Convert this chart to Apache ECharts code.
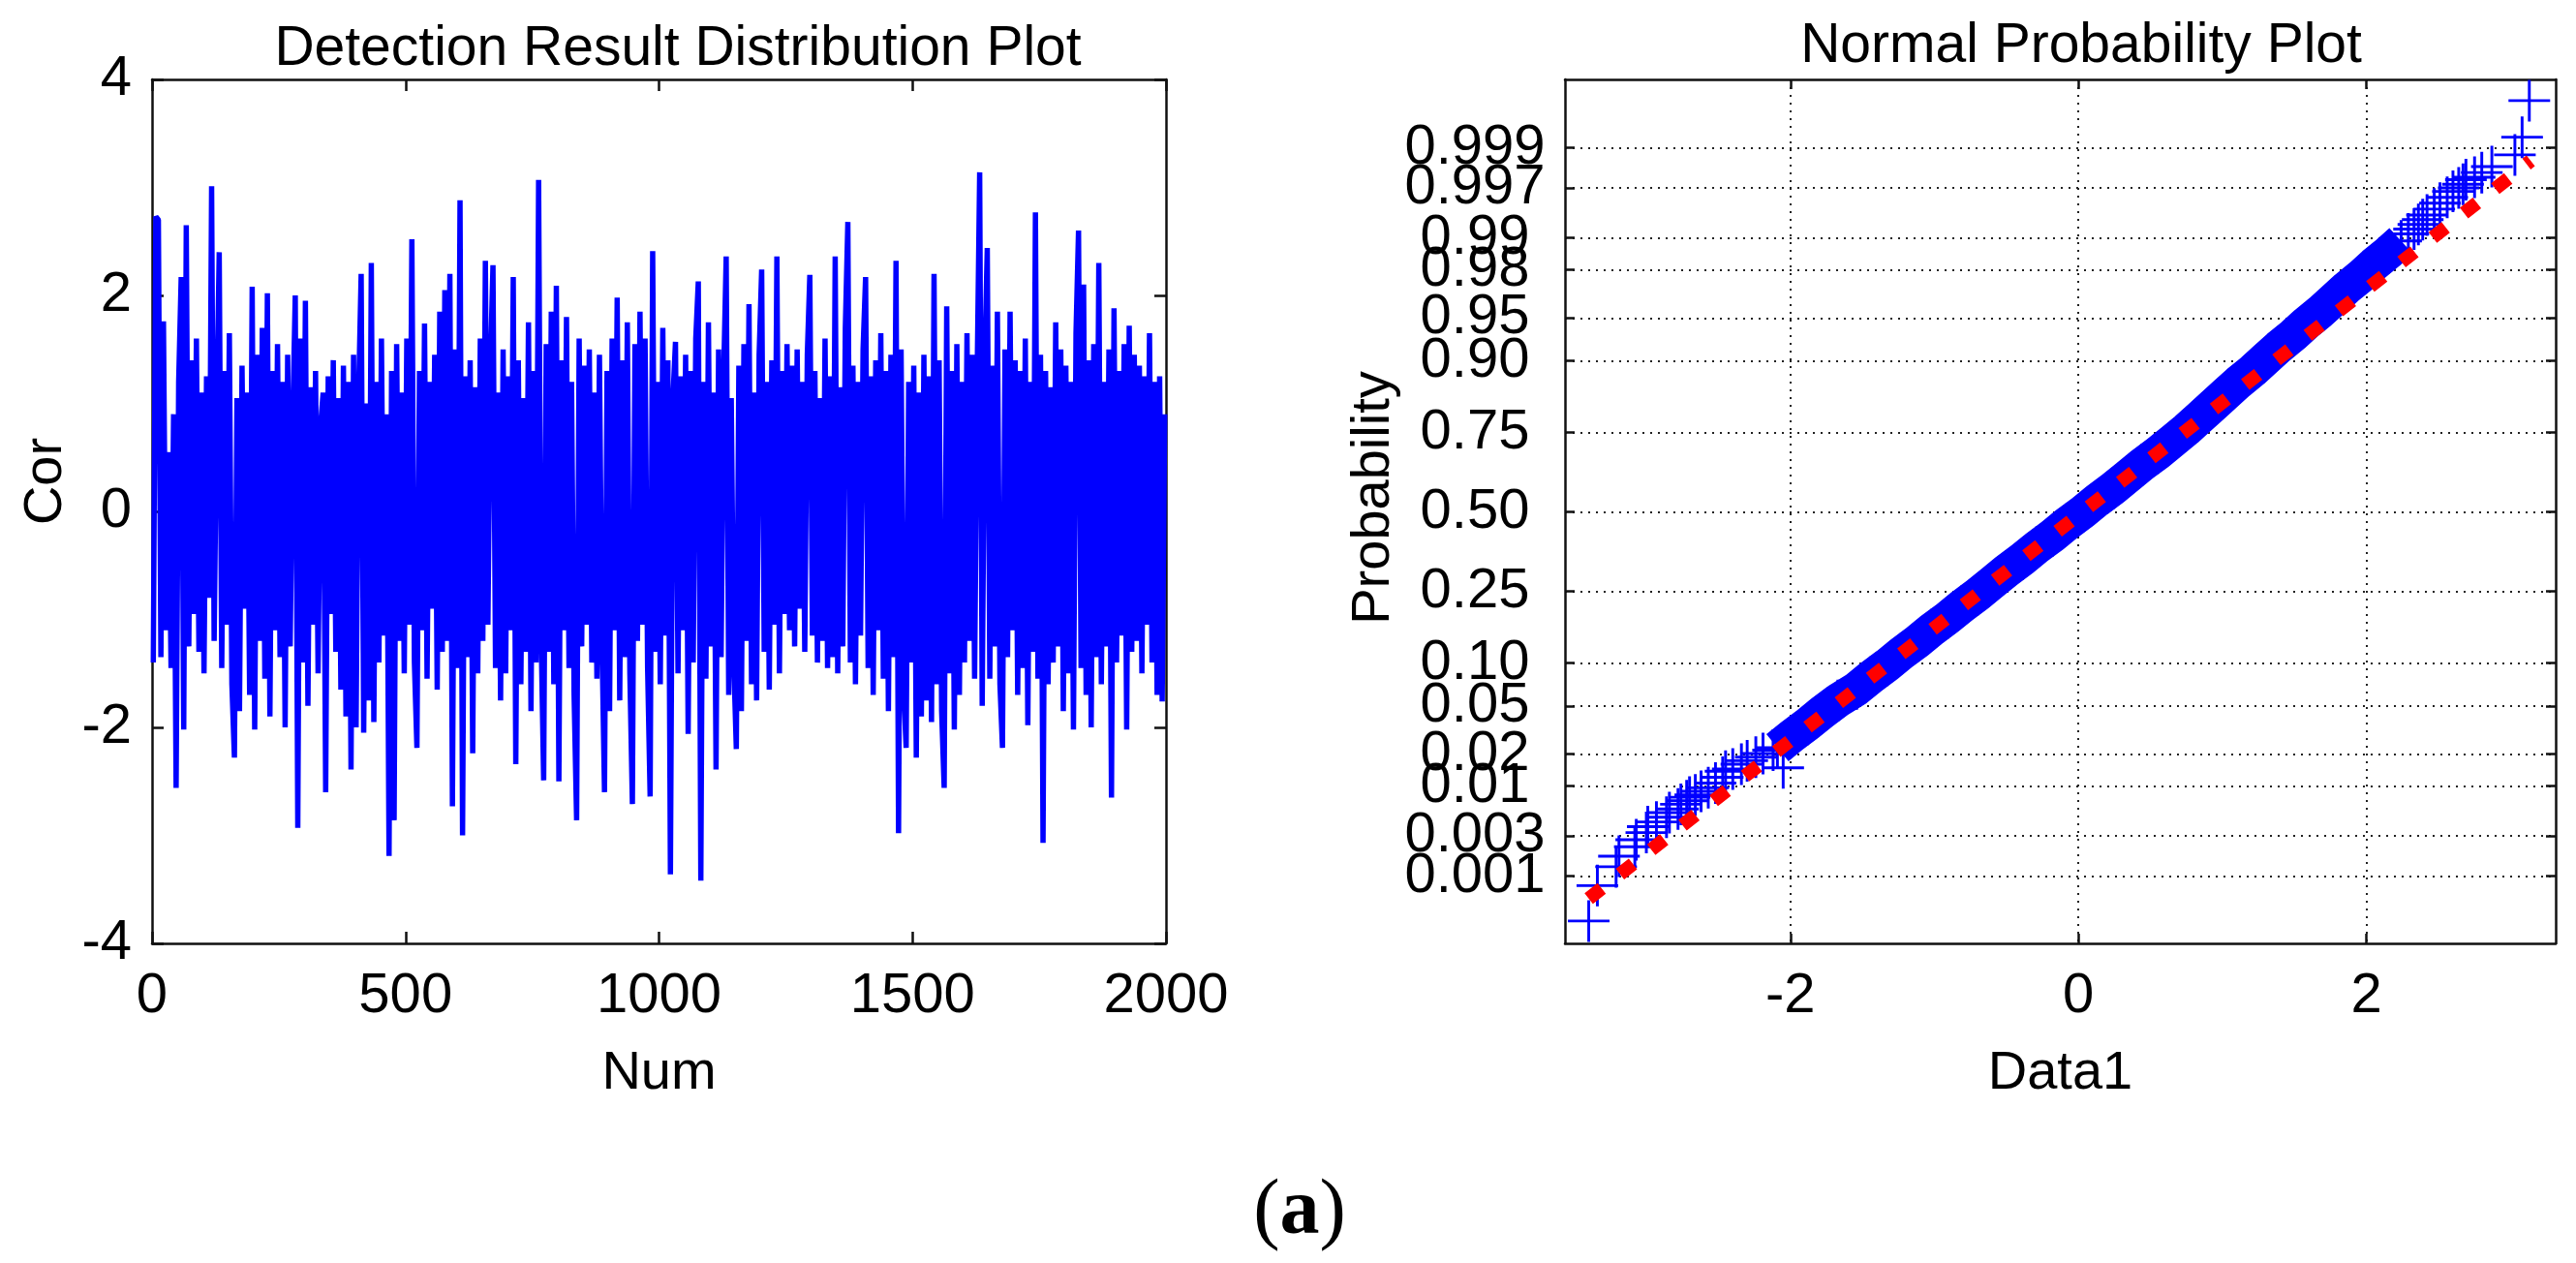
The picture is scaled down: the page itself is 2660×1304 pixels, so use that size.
<!DOCTYPE html>
<html>
<head>
<meta charset="utf-8">
<title>Detection Result / Normal Probability Plot</title>
<script src="https://cdn.jsdelivr.net/npm/echarts@6/dist/echarts.min.js"></script>
<style>
  html, body { margin: 0; padding: 0; background: #fff; }
  #chart { width: 2660px; height: 1304px; }
</style>
</head>
<body>
<div id="chart"></div>
<script>
// left plot: detection result, one value every sampleStep samples
var sampleStep = 5;
var corValues = [
	-1.40, 2.73, 2.70, -1.35, 1.76, -1.10, 0.55, -1.45, 0.90, -2.56, 1.20, 2.17, -2.02, 2.65, -1.25, 1.40, -0.95, 1.60, -1.30, 1.10, -1.50, 1.25, -0.80, 3.01, -1.20,
	0.95, 2.40, -1.45, 1.30, -1.05, 1.65, -1.60, -2.28, 1.05, -1.85, 1.35, -0.90, 1.10, -1.70, 2.08, -2.02, 1.45, -1.20, 1.70, -1.55, 2.02, -1.90, 1.30, -1.10, 1.55,
	-1.35, 1.20, -2.00, 1.45, -1.25, 0.85, 2.00, -2.93, 1.60, -1.40, 1.95, -1.80, 1.15, -1.05, 1.30, -1.50, 0.80, 1.10, -2.60, 1.25, -0.95, 1.40, -1.30, 1.05, -1.65,
	1.35, -1.90, 1.20, -2.39, 1.45, -2.00, 1.10, 2.20, -2.05, 1.00, -1.75, 2.30, -1.95, 1.20, -1.40, 1.60, -1.15, 0.90, -3.19, 1.30, -2.86, 1.55, -1.20, 1.10, -1.50,
	1.60, -1.05, 2.52, -1.40, -2.19, 1.30, -1.10, 1.74, -1.55, 1.20, -0.90, 1.45, -1.65, 1.85, -1.30, 2.05, -1.20, 2.20, -2.73, 1.50, -1.45, 2.88, -3.00, 1.25, -1.35,
	1.40, -2.24, 1.15, -1.50, 1.60, -1.20, 2.32, -1.05, 1.35, 2.28, -1.45, 1.10, -1.75, 1.50, -1.50, 1.25, -1.10, 2.17, -2.34, 1.40, -1.60, 1.05, -1.30, 1.75, -1.85,
	1.30, -1.40, 3.07, -1.15, -2.49, 1.55, -1.30, 1.85, -1.60, 2.09, -2.50, 1.40, -1.10, 1.80, -1.45, 1.20, -1.70, -2.86, 1.60, -1.25, 1.35, -1.05, 1.50, -1.40, 1.10,
	-1.55, 1.45, -1.20, -2.60, 1.30, -1.85, 1.60, -1.10, 1.98, -1.75, 1.40, -1.35, 1.75, -1.50, -2.71, 1.55, -1.20, 1.85, -1.05, 1.60, -1.45, -2.64, 2.41, -1.30, 1.20,
	-1.60, 1.70, -1.15, 1.40, -3.36, 1.05, 1.57, -1.50, 1.25, -1.10, 1.45, -2.06, 1.30, -1.40, 1.60, 2.13, -3.42, 1.20, -1.55, 1.75, -1.25, 1.10, -2.39, 1.50, -1.35,
	1.25, 2.36, -1.70, 1.05, -1.40, -2.20, 1.35, -1.85, 1.55, -1.20, 1.92, -1.60, 1.10, -1.75, 1.45, 2.24, -1.30, 1.20, -1.65, 1.40, -1.05, 2.36, -1.50, 1.30, -0.95,
	1.55, -1.10, 1.35, -1.25, 1.50, -0.90, 1.20, -1.30, 1.45, 2.19, -1.15, 1.30, -1.40, 1.05, -1.20, 1.60, -1.45, 1.25, -1.35, 2.36, -1.50, 1.15, -1.25, 1.70, 2.68,
	-1.40, 1.35, -1.60, 1.20, -1.15, 1.50, 2.17, -1.45, 1.25, -1.70, 1.40, -1.10, 1.65, -1.55, 1.30, -1.85, 1.45, -1.35, 2.32, -2.98, 1.50, -1.65, -2.19, 1.20, -1.40,
	1.35, -2.28, 1.10, -1.90, 1.45, -1.75, 1.25, -1.95, 2.20, -1.60, 1.40, -1.85, -2.56, 1.90, -1.50, 1.30, -2.02, 1.55, -1.70, 1.20, -1.40, 1.65, -1.20, 1.45, -1.55,
	1.25, 3.14, -1.80, 1.40, 2.44, -1.55, 1.35, -1.25, 1.85, -1.60, -2.19, 1.50, -1.35, 1.85, -1.10, 1.40, -1.70, 1.30, -1.45, 1.60, -1.98, 1.20, -1.30, 2.77, -1.55,
	1.45, -3.07, 1.30, -1.60, 1.15, -1.40, 1.75, -1.25, 1.50, -1.85, 1.35, -1.50, 1.20, -2.02, 1.65, 2.60, -1.45, 2.10, -1.70, 1.40, -2.00, 1.55, -1.35, 2.30, -1.60,
	1.20, -1.25, 1.50, -2.65, 1.88, -1.40, 1.30, -1.15, 1.55, -2.02, 1.72, -1.30, 1.45, -1.20, 1.35, -1.50, 1.25, -1.05, 1.65, -1.40, 1.20, -1.70, 1.25, -1.76, 0.90
];

// right plot: sorted data (x) against normal score of its plotting position (z)
var lowTailX = [-3.40, -3.34, -3.21, -3.19, -3.08, -3.07, -3.00, -2.99, -2.93, -2.86, -2.84, -2.78, -2.76, -2.72, -2.70,
	-2.66, -2.62, -2.57, -2.52, -2.47, -2.45, -2.40, -2.34, -2.30, -2.24, -2.19, -2.12, -2.05];
var lowTailZ = [-3.47, -3.17, -3.01, -2.92, -2.84, -2.78, -2.72, -2.67, -2.63, -2.59, -2.55, -2.52, -2.48, -2.45, -2.42,
	-2.40, -2.37, -2.34, -2.30, -2.25, -2.20, -2.18, -2.14, -2.11, -2.08, -2.05, -2.02, -2.17];
var bandX = [-2.09, -1.99, -1.88, -1.78, -1.67, -1.54, -1.44, -1.33, -1.23, -1.12, -1.02, -0.91, -0.81, -0.70, -0.60,
	-0.50, -0.39, -0.29, -0.18, -0.08, 0.03, 0.13, 0.24, 0.34, 0.44, 0.55, 0.65, 0.75, 0.84, 0.93,
	1.02, 1.11, 1.21, 1.30, 1.39, 1.49, 1.58, 1.68, 1.77, 1.86, 1.96, 2.05, 2.15, 2.24];
var bandZ = [-2.0, -1.9, -1.8, -1.7, -1.6, -1.5, -1.4, -1.3, -1.2, -1.1, -1.0, -0.9, -0.8, -0.7, -0.6,
	-0.5, -0.4, -0.3, -0.2, -0.1, 0.0, 0.1, 0.2, 0.3, 0.4, 0.5, 0.6, 0.7, 0.8, 0.9,
	1.0, 1.1, 1.2, 1.3, 1.4, 1.5, 1.6, 1.7, 1.8, 1.9, 2.0, 2.1, 2.2, 2.3];
var highTailX = [2.29, 2.33, 2.36, 2.39, 2.42, 2.47, 2.51, 2.56, 2.60, 2.64, 2.67, 2.69, 2.75, 2.80, 2.87, 3.03, 3.08, 3.13];
var highTailZ = [2.36, 2.40, 2.44, 2.48, 2.52, 2.57, 2.62, 2.67, 2.72, 2.75, 2.78, 2.82, 2.84, 2.88, 2.93, 3.03, 3.18, 3.49];
// fitted reference line end points
var refLineX = [-3.40, 3.14];
var refLineZ = [-3.28, 2.98];

var probTickLabels = ['0.001', '0.003', '0.01', '0.02', '0.05', '0.10', '0.25', '0.50',
	'0.75', '0.90', '0.95', '0.98', '0.99', '0.997', '0.999'];
var dataTicks = [-2, 0, 2];

// inverse normal cdf (Acklam), used for the probability axis
function norminv(p) {
	var a = [-39.69683028665376, 220.9460984245205, -275.9285104469687, 138.3577518672690, -30.66479806614716, 2.506628277459239];
	var b = [-54.47609879822406, 161.5858368580409, -155.6989798598866, 66.80131188771972, -13.28068155288572];
	var c = [-0.007784894002430293, -0.3223964580411365, -2.400758277161838, -2.549732539343734, 4.374664141464968, 2.938163982698783];
	var d = [0.007784695709041462, 0.3224671290700398, 2.445134137142996, 3.754408661907416];
	var pl = 0.02425, q, r;
	if (p < pl) {
		q = Math.sqrt(-2 * Math.log(p));
		return (((((c[0] * q + c[1]) * q + c[2]) * q + c[3]) * q + c[4]) * q + c[5]) / ((((d[0] * q + d[1]) * q + d[2]) * q + d[3]) * q + 1);
	}
	if (p > 1 - pl) {
		q = Math.sqrt(-2 * Math.log(1 - p));
		return -(((((c[0] * q + c[1]) * q + c[2]) * q + c[3]) * q + c[4]) * q + c[5]) / ((((d[0] * q + d[1]) * q + d[2]) * q + d[3]) * q + 1);
	}
	q = p - 0.5;
	r = q * q;
	return (((((a[0] * r + a[1]) * r + a[2]) * r + a[3]) * r + a[4]) * r + a[5]) * q / (((((b[0] * r + b[1]) * r + b[2]) * r + b[3]) * r + b[4]) * r + 1);
}

function pairs(xs, ys) {
	return xs.map(function(x, i) { return [x, ys[i]]; });
}

function initChart() {
	var dom = document.getElementById('chart');
	var myChart = echarts.init(dom, null, { renderer: 'canvas' });

	var font = 'Liberation Sans, Arial, sans-serif';
	var black = '#000';
	var probTickZ = probTickLabels.map(function(s) { return norminv(parseFloat(s)); });
	// labels split over two stacked axes so the crowded ones at both ends are not dropped
	var probLabelsA = probTickZ.filter(function(z, i) { return i % 2 === 0; });
	var probLabelsB = probTickZ.filter(function(z, i) { return i % 2 === 1; });
	var probFormatter = function(val) {
		var best = 0;
		for (var i = 1; i < probTickZ.length; i++) {
			if (Math.abs(probTickZ[i] - val) < Math.abs(probTickZ[best] - val)) best = i;
		}
		return probTickLabels[best];
	};

	var corData = corValues.map(function(v, i) { return [i * sampleStep + sampleStep / 2, v]; });
	var crossData = pairs(lowTailX, lowTailZ).concat(pairs(bandX, bandZ), pairs(highTailX, highTailZ));
	var crossSymbol = 'path://M-1.5,-22H1.5V22H-1.5Z M-22,-1.5H22V1.5H-22Z';

	var axisLine = { show: true, onZero: false, lineStyle: { color: '#111', width: 2.5 } };
	var tickStyle = { color: '#111', width: 2.5 };
	var labelStyle = { color: black, fontSize: 58, fontFamily: font };
	var nameStyle = { color: black, fontSize: 56, fontFamily: font };
	var dotted = { show: true, lineStyle: { color: '#222', width: 2, type: [2, 6] } };
	var plain = function(v) { return String(v); };

	var option = {
		animation: false,
		backgroundColor: '#fff',
		title: [{
			text: 'Detection Result Distribution Plot',
			left: 695,
			top: 18,
			textAlign: 'center',
			textStyle: { color: black, fontSize: 57, fontWeight: 'normal', fontFamily: font }
		}, {
			text: 'Normal Probability Plot',
			left: 2144,
			top: 15,
			textAlign: 'center',
			textStyle: { color: black, fontSize: 57, fontWeight: 'normal', fontFamily: font }
		}],
		grid: [
			{ left: 157, top: 82, width: 1047, height: 892 },
			{ left: 1616, top: 82, width: 1023, height: 892 }
		],
		xAxis: [{
			gridIndex: 0, type: 'value', position: 'bottom',
			min: 0, max: 2000, interval: 500,
			name: 'Num', nameLocation: 'middle', nameGap: 107, nameTextStyle: nameStyle,
			axisLine: axisLine,
			axisTick: { inside: true, length: 12, lineStyle: tickStyle },
			axisLabel: Object.assign({ margin: 26, formatter: plain }, labelStyle),
			splitLine: { show: false }
		}, {
			gridIndex: 0, type: 'value', position: 'top',
			min: 0, max: 2000, interval: 500,
			axisLine: axisLine,
			axisTick: { inside: true, length: 12, lineStyle: tickStyle },
			axisLabel: { show: false },
			splitLine: { show: false }
		}, {
			gridIndex: 1, type: 'value', position: 'bottom',
			min: -3.565, max: 3.313,
			name: 'Data1', nameLocation: 'middle', nameGap: 107, nameTextStyle: nameStyle,
			axisLine: axisLine,
			axisTick: { inside: true, length: 10, lineStyle: tickStyle, customValues: dataTicks },
			axisLabel: Object.assign({ margin: 26, customValues: dataTicks, formatter: plain }, labelStyle),
			splitLine: dotted
		}, {
			gridIndex: 1, type: 'value', position: 'top',
			min: -3.565, max: 3.313,
			axisLine: axisLine,
			axisTick: { inside: true, length: 10, lineStyle: tickStyle, customValues: dataTicks },
			axisLabel: { show: false },
			splitLine: { show: false }
		}],
		yAxis: [{
			gridIndex: 0, type: 'value', position: 'left',
			min: -4, max: 4, interval: 2,
			name: 'Cor', nameLocation: 'middle', nameGap: 81,
			nameTextStyle: Object.assign({ padding: [0, 0, 0, 62] }, nameStyle),
			axisLine: axisLine,
			axisTick: { inside: true, length: 12, lineStyle: tickStyle },
			axisLabel: Object.assign({ margin: 21, formatter: plain }, labelStyle),
			splitLine: { show: false }
		}, {
			gridIndex: 0, type: 'value', position: 'right',
			min: -4, max: 4, interval: 2,
			axisLine: axisLine,
			axisTick: { inside: true, length: 12, lineStyle: tickStyle },
			axisLabel: { show: false },
			splitLine: { show: false }
		}, {
			gridIndex: 1, type: 'value', position: 'left',
			min: -3.66, max: 3.67,
			name: 'Probability', nameLocation: 'middle', nameGap: 159,
			nameTextStyle: Object.assign({ padding: [0, 0, 0, 28] }, nameStyle),
			axisLine: axisLine,
			axisTick: { inside: true, length: 10, lineStyle: tickStyle, customValues: probTickZ },
			axisLabel: Object.assign({
				margin: 93, align: 'center',
				showMinLabel: true, showMaxLabel: true,
				customValues: probLabelsA, formatter: probFormatter
			}, labelStyle),
			splitLine: dotted
		}, {
			gridIndex: 1, type: 'value', position: 'right',
			min: -3.66, max: 3.67,
			axisLine: axisLine,
			axisTick: { inside: true, length: 10, lineStyle: tickStyle, customValues: probTickZ },
			axisLabel: { show: false },
			splitLine: { show: false }
		}, {
			gridIndex: 1, type: 'value', position: 'left',
			min: -3.66, max: 3.67,
			axisLine: { show: false, onZero: false },
			axisTick: { show: false },
			axisLabel: Object.assign({
				margin: 93, align: 'center',
				showMinLabel: true, showMaxLabel: true,
				customValues: probLabelsB, formatter: probFormatter
			}, labelStyle),
			splitLine: { show: false }
		}],
		series: [{
			name: 'Cor',
			type: 'line',
			xAxisIndex: 0,
			yAxisIndex: 0,
			data: corData,
			showSymbol: false,
			symbol: 'none',
			lineStyle: { color: '#0000ff', width: 5.5 },
			z: 2
		}, {
			name: 'Data1',
			type: 'scatter',
			xAxisIndex: 2,
			yAxisIndex: 2,
			data: crossData,
			symbol: crossSymbol,
			symbolSize: 43,
			itemStyle: { color: '#0000ff', opacity: 1 },
			z: 2
		}, {
			name: 'Data1 band',
			type: 'line',
			xAxisIndex: 2,
			yAxisIndex: 2,
			data: pairs(bandX, bandZ),
			showSymbol: false,
			symbol: 'none',
			lineStyle: { color: '#0000ff', width: 36, cap: 'butt', join: 'round' },
			z: 3
		}, {
			name: 'Reference',
			type: 'line',
			xAxisIndex: 2,
			yAxisIndex: 2,
			data: pairs(refLineX, refLineZ),
			showSymbol: false,
			symbol: 'none',
			lineStyle: { color: '#ff0000', width: 14, type: [17, 24], cap: 'butt' },
			z: 4
		}],
		graphic: [{
			type: 'text',
			x: 1342,
			y: 1252,
			style: {
				text: '{p|(}{b|a}{p|)}',
				align: 'center',
				verticalAlign: 'middle',
				fill: black,
				rich: {
					p: { fontFamily: 'Liberation Serif, serif', fontSize: 82, fill: black },
					b: { fontFamily: 'Liberation Serif, serif', fontSize: 82, fontWeight: 'bold', fill: black }
				}
			}
		}]
	};

	myChart.setOption(option, true);
}

onload = function() {
	initChart();
}
</script>
</body>
</html>
